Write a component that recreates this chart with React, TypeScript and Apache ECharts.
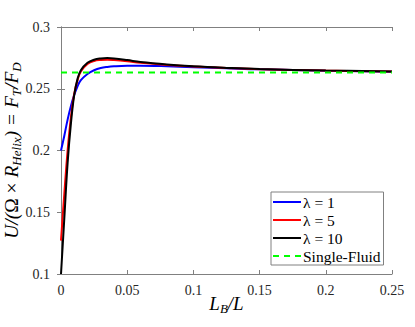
import React, { useEffect, useRef } from "react";
import * as echarts from "echarts";

const xs = [0, 0.0025, 0.005, 0.0075, 0.01, 0.0125, 0.015, 0.02, 0.025, 0.03, 0.035, 0.04, 0.05, 0.06, 0.08, 0.1, 0.125, 0.15, 0.2, 0.25];
const lambda1 = [0.2, 0.212, 0.225, 0.236, 0.245, 0.252, 0.257, 0.262, 0.265, 0.2668, 0.2677, 0.2682, 0.2686, 0.2686, 0.2682, 0.2675, 0.2666, 0.2657, 0.2646, 0.2638];
const lambda5 = [0.127, 0.165, 0.2, 0.227, 0.246, 0.257, 0.264, 0.27, 0.2725, 0.2733, 0.2735, 0.2732, 0.2722, 0.271, 0.2693, 0.268, 0.2668, 0.2658, 0.2647, 0.2639];
const lambda10 = [0.1, 0.145, 0.19, 0.222, 0.245, 0.258, 0.265, 0.271, 0.2735, 0.2745, 0.2748, 0.2745, 0.2732, 0.2717, 0.2697, 0.2682, 0.2669, 0.2659, 0.2648, 0.264];
const singleFluid = 0.2631;
const seriesNames = ["λ = 1", "λ = 5", "λ = 10", "Single-Fluid"];
const colors = ["#0000ff", "#ff0000", "#000000", "#00ff00"];

const pairs = (ys: number[]) => xs.map((x, i) => [x, ys[i]]);

const solidIcon = "path://M0,0h28v2h-28z";
const dashedIcon = "path://M0,0h6v2h-6zM11,0h6v2h-6zM22,0h6v2h-6z";

export default function App() {
  const ref = useRef<HTMLDivElement>(null);
  useEffect(() => {
    const chart = echarts.init(ref.current!, null, { renderer: "svg" });
    const font = "'Liberation Serif', 'Times New Roman', serif";
    const axisLine = { show: true, lineStyle: { color: "#808080", width: 1 } };
    const tick = { inside: true, length: 4, lineStyle: { color: "#808080" } };
    const label = { color: "#262626", fontFamily: font, fontSize: 14 };
    chart.setOption({
      animation: false,
      grid: { left: 61, top: 27, right: 23, bottom: 53, outerBoundsMode: "none", containLabel: false },
      xAxis: [
        {
          type: "value", min: 0, max: 0.25, interval: 0.05,
          axisLine, axisTick: tick,
          splitLine: { show: false },
          axisLabel: { ...label, margin: 9 },
          name: "{i|L}{s|B}{i|/L}",
          nameLocation: "middle", nameGap: 18, nameMoveOverlap: false,
          nameTextStyle: {
            rich: {
              i: { fontFamily: font, fontStyle: "italic", fontSize: 19, color: "#000" },
              s: { fontFamily: font, fontStyle: "italic", fontSize: 13, color: "#000", padding: [10, 0, 0, 0] },
            },
          },
        },
        {
          type: "value", min: 0, max: 0.25, interval: 0.05, position: "top",
          axisLine, axisTick: tick,
          axisLabel: { show: false }, splitLine: { show: false },
        },
      ],
      yAxis: [
        {
          type: "value", min: 0.1, max: 0.3, interval: 0.05,
          axisLine, axisTick: tick,
          splitLine: { show: false },
          axisLabel: { ...label, margin: 11 },
          name: "{i|U/(}{n|Ω × }{i|R}{s|Helix}{i|) = F}{s|T}{i|/F}{s|D}",
          nameLocation: "middle", nameGap: 38, nameRotate: 90, nameMoveOverlap: false,
          nameTextStyle: {
            rich: {
              i: { fontFamily: font, fontStyle: "italic", fontSize: 19.5, color: "#000" },
              n: { fontFamily: font, fontSize: 19.5, color: "#000" },
              s: { fontFamily: font, fontStyle: "italic", fontSize: 13, color: "#000", padding: [10, 0, 0, 0] },
            },
          },
        },
        {
          type: "value", min: 0.1, max: 0.3, interval: 0.05, position: "right",
          axisLine, axisTick: tick,
          axisLabel: { show: false }, splitLine: { show: false },
        },
      ],
      legend: {
        left: 271, top: 192,
        orient: "vertical",
        backgroundColor: "#fff",
        borderColor: "#808080", borderWidth: 1,
        padding: [2, 3, 1, 2],
        itemGap: 2,
        itemWidth: 28, itemHeight: 2,
        symbolKeepAspect: false,
        textStyle: { fontFamily: font, fontSize: 15.5, color: "#000", padding: [0, 0, 0, -3], lineHeight: 15 },
        data: [
          { name: seriesNames[0], icon: solidIcon },
          { name: seriesNames[1], icon: solidIcon },
          { name: seriesNames[2], icon: solidIcon },
          { name: seriesNames[3], icon: dashedIcon },
        ],
      },
      series: [
        { name: seriesNames[0], type: "line", data: pairs(lambda1), smooth: 0.4, symbol: "none", lineStyle: { color: colors[0], width: 2 }, itemStyle: { color: colors[0] } },
        { name: seriesNames[1], type: "line", data: pairs(lambda5), smooth: 0.4, symbol: "none", lineStyle: { color: colors[1], width: 2 }, itemStyle: { color: colors[1] } },
        { name: seriesNames[2], type: "line", data: pairs(lambda10), smooth: 0.4, symbol: "none", lineStyle: { color: colors[2], width: 2 }, itemStyle: { color: colors[2] } },
        { name: seriesNames[3], type: "line", data: [[0, singleFluid], [0.25, singleFluid]], symbol: "none", lineStyle: { color: colors[3], width: 2, type: [6, 5] }, itemStyle: { color: colors[3] } },
      ],
    });
    return () => chart.dispose();
  }, []);
  return <div ref={ref} style={{ position: "absolute", left: 0, top: 0, width: 415, height: 327, background: "#fff" }} />;
}
